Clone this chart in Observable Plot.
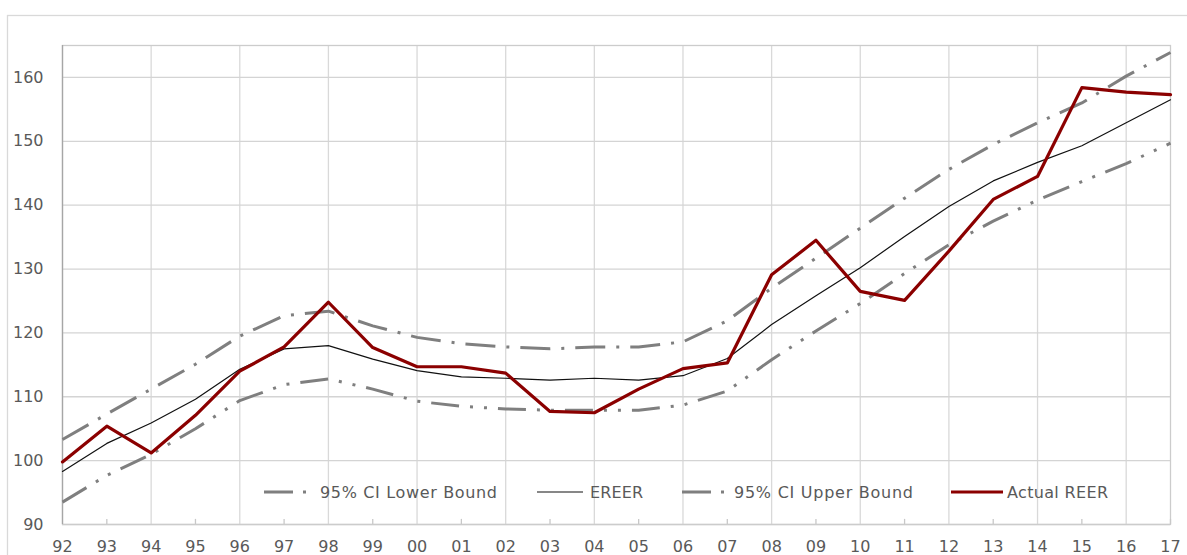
<!DOCTYPE html>
<html>
<head>
<meta charset="utf-8">
<script src="https://cdn.jsdelivr.net/npm/d3@7"></script>
<script src="https://cdn.jsdelivr.net/npm/@observablehq/plot@0.6"></script>
<style>
  html, body { margin: 0; padding: 0; background: #ffffff; }
  #chart { width: 1187px; height: 555px; }
</style>
</head>
<body>
<div id="chart"></div>
<script>
// ---- data ----
const years = [1992,1993,1994,1995,1996,1997,1998,1999,2000,2001,2002,2003,2004,2005,2006,2007,2008,2009,2010,2011,2012,2013,2014,2015,2016,2017];
const lowerBound = [93.5, 97.7, 101.0, 105.0, 109.4, 111.9, 112.8, 111.2, 109.3, 108.5, 108.1, 107.9, 107.9, 107.9, 108.7, 110.9, 115.8, 120.3, 124.6, 129.3, 133.8, 137.5, 140.8, 143.7, 146.5, 149.7];
const ereer      = [98.3, 102.7, 105.9, 109.6, 114.3, 117.5, 118.0, 115.9, 114.1, 113.1, 112.9, 112.6, 112.9, 112.6, 113.3, 116.0, 121.3, 125.8, 130.2, 135.1, 139.8, 143.8, 146.7, 149.3, 152.9, 156.5];
const upperBound = [103.3, 107.3, 111.2, 115.1, 119.5, 122.7, 123.4, 121.1, 119.3, 118.3, 117.8, 117.5, 117.8, 117.8, 118.6, 121.9, 127.0, 131.7, 136.4, 141.1, 145.6, 149.5, 152.9, 156.0, 160.2, 163.9];
const actualReer = [99.8, 105.4, 101.2, 107.1, 114.0, 117.8, 124.8, 117.7, 114.7, 114.7, 113.7, 107.7, 107.5, 111.2, 114.4, 115.3, 129.1, 134.5, 126.5, 125.1, 132.8, 140.9, 144.5, 158.4, 157.7, 157.3];
const yTicks = [90, 100, 110, 120, 130, 140, 150, 160];
const seriesNames = ["95% CI Lower Bound", "EREER", "95% CI Upper Bound", "Actual REER"];

// ---- build tidy rows ----
const rows = (vals) => years.map((year, i) => ({year, value: vals[i]}));
const evenYears = years.filter(y => y % 2 === 0 && y !== 1992);
const oddYears = years.filter(y => y % 2 === 1);
const fmtYear = d => String(d % 100).padStart(2, "0");

const GRAY = "#7f7f7f";
const RED = "#8B0000";
const DASH_UP = "30,11,3,11";
const DASH_LO = "28,11,3,11,3,11";

const chart = Plot.plot({
  width: 1187,
  height: 555,
  marginLeft: 62,
  marginRight: 17,
  marginTop: 45,
  marginBottom: 31,
  style: {fontFamily: "'DejaVu Sans', sans-serif", fontSize: "16px", color: "#595959", background: "#ffffff", overflow: "visible"},
  x: {domain: [1992, 2017], label: null},
  y: {domain: [90, 165], label: null},
  marks: [
    Plot.gridX(evenYears, {stroke: "#d9d9d9", strokeOpacity: 1, strokeWidth: 1.3}),
    Plot.gridY(yTicks, {stroke: "#d4d4d4", strokeOpacity: 1, strokeWidth: 1.3}),
    Plot.frame({stroke: "#cccccc", strokeWidth: 1.3}),
    Plot.ruleX(oddYears, {y1: 90, y2: 90.8, stroke: "#c8c8c8", strokeWidth: 1.3}),
    Plot.ruleX([1992], {stroke: "#a6a6a6", strokeWidth: 1.3}),
    Plot.axisX({ticks: years, tickSize: 0, tickPadding: 16, tickFormat: fmtYear, label: null, fill: "#595959"}),
    Plot.axisY({ticks: yTicks, tickSize: 0, tickPadding: 19, label: null, fill: "#595959"}),
    Plot.line(rows(lowerBound), {x: "year", y: "value", stroke: GRAY, strokeWidth: 3, strokeDasharray: DASH_LO, strokeLinecap: "butt"}),
    Plot.line(rows(ereer), {x: "year", y: "value", stroke: "#111111", strokeWidth: 1.2}),
    Plot.line(rows(upperBound), {x: "year", y: "value", stroke: GRAY, strokeWidth: 3, strokeDasharray: DASH_UP, strokeLinecap: "butt"}),
    Plot.line(rows(actualReer), {x: "year", y: "value", stroke: RED, strokeWidth: 3.2})
  ]
});

document.getElementById("chart").appendChild(chart);

// ---- chart-area border and legend (decoration) ----
const svg = d3.select(chart);
svg.insert("rect", ":first-child")
  .attr("x", 7.5).attr("y", 15.5).attr("width", 1200).attr("height", 600)
  .attr("fill", "none").attr("stroke", "#d9d9d9").attr("stroke-width", 1.3);

const legendY = 492;
const legendItems = [
  {name: seriesNames[0], x1: 264, x2: 309, stroke: GRAY, width: 3, dash: "29,10,3,40", tx: 320, len: 177},
  {name: seriesNames[1], x1: 537, x2: 583, stroke: "#111111", width: 1.2, dash: null, tx: 590, len: 53},
  {name: seriesNames[2], x1: 682, x2: 727, stroke: GRAY, width: 3, dash: "29,10,3,40", tx: 734, len: 179},
  {name: seriesNames[3], x1: 951, x2: 1003, stroke: RED, width: 3.2, dash: null, tx: 1007, len: 101}
];
const lg = svg.append("g").attr("class", "legend").attr("text-anchor", "start");
legendItems.forEach(it => {
  const l = lg.append("line")
    .attr("x1", it.x1).attr("x2", it.x2).attr("y1", legendY).attr("y2", legendY)
    .attr("stroke", it.stroke).attr("stroke-width", it.width);
  if (it.dash) l.attr("stroke-dasharray", it.dash);
  lg.append("text")
    .attr("x", it.tx).attr("y", legendY).attr("dy", "0.35em")
    .attr("text-anchor", "start")
    .attr("fill", "#595959")
    .attr("font-family", "'DejaVu Sans', sans-serif")
    .attr("font-size", 16)
    .attr("textLength", it.len)
    .attr("lengthAdjust", "spacing")
    .text(it.name);
});
</script>
</body>
</html>
